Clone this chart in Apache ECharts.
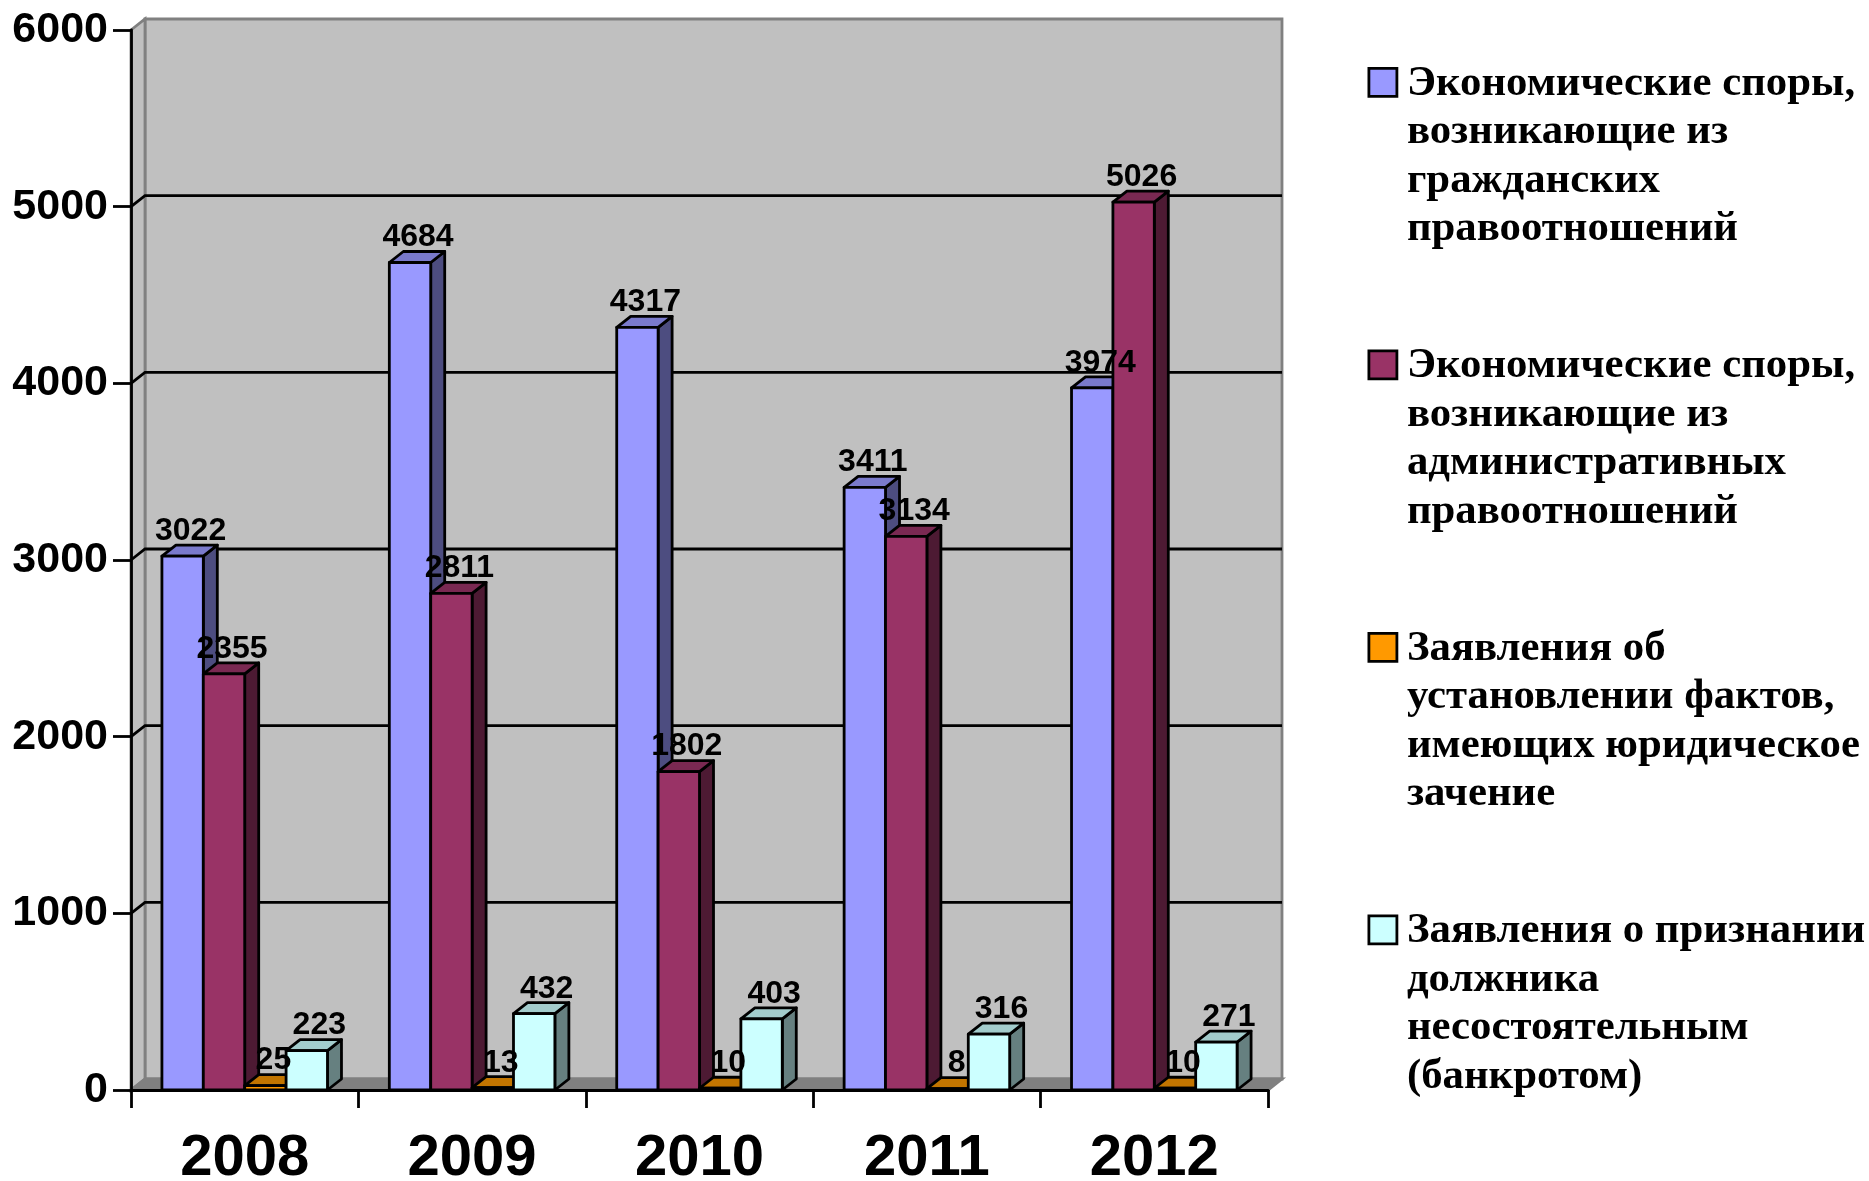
<!DOCTYPE html>
<html><head><meta charset="utf-8">
<style>html,body{margin:0;padding:0;background:#fff}#c{width:1869px;height:1181px}</style>
<script src="https://cdn.jsdelivr.net/npm/echarts@6/dist/echarts.min.js"></script>
</head><body><div id="c"></div>
<script>
const categories = ['2008','2009','2010','2011','2012'];
const civil = [3022,4684,4317,3411,3974];
const admin = [2355,2811,1802,3134,5026];
const facts = [25,13,10,8,10];
const bankrupt = [223,432,403,316,271];
const gridTicks = [1000,2000,3000,4000,5000];
const seriesNames = [
 'Экономические споры,\nвозникающие из\nгражданских\nправоотношений',
 'Экономические споры,\nвозникающие из\nадминистративных\nправоотношений',
 'Заявления об\nустановлении фактов,\nимеющих юридическое\nзачение',
 'Заявления о признании\nдолжника\nнесостоятельным\n(банкротом)'
];
const seriesValues = [civil,admin,facts,bankrupt];
const faceColors = ['#9999FF','#993366','#FF9900','#CCFFFF'];
const sideColors = ['#4D4D80','#4D1A33','#804D00','#668080'];
const topColors = ['#7A7ACC','#7A2952','#C27500','#A3CCCC'];

const DX = 14, DY = -11, LW = 2.8, BAR_RATIO = 0.182;
const LABEL_SHIFT = {1:9,2:8,3:12.5,4:8};
const SANS = '"Liberation Sans", Arial, sans-serif';

function wallItem(params){
  const c = params.coordSys, l=c.x, r=c.x+c.width, t=c.y, b=c.y+c.height;
  const gs = {fill:'#C0C0C0',stroke:'#808080',lineWidth:LW};
  return {type:'group',children:[
    {type:'polygon',z2:0,shape:{points:[[l+DX,t+DY],[r+DX,t+DY],[r+DX,b+DY],[l+DX,b+DY]]},style:gs},
    {type:'polygon',z2:0,shape:{points:[[l,t],[l+DX,t+DY],[l+DX,b+DY],[l,b]]},style:gs},
    {type:'polygon',z2:0,shape:{points:[[l,b],[l+DX,b+DY],[r+DX,b+DY],[r,b]]},style:{fill:'#808080',stroke:'#808080',lineWidth:LW}}
  ]};
}
function gridItem(params,api){
  const c = params.coordSys, l=c.x, r=c.x+c.width;
  const y = api.coord([0,api.value(0)])[1];
  return {type:'polyline',z2:1,shape:{points:[[l,y],[l+DX,y+DY],[r+DX,y+DY]]},style:{fill:null,stroke:'#000',lineWidth:LW}};
}
function barItem(si){
  return function(params,api){
    const p0 = api.coord([api.value(0),0]), p1 = api.coord([api.value(0),api.value(1)]);
    const bw = api.size([1,0])[0]*BAR_RATIO;
    const x0 = p0[0]+(si-2)*bw, x1 = x0+bw, yb = p0[1], yt = p1[1];
    const st = f=>({fill:f,stroke:'#000',lineWidth:LW,lineJoin:'round'});
    const txt = String(api.value(1));
    return {type:'group',children:[
      {type:'polygon',z2:10+si,shape:{points:[[x1,yb],[x1+DX,yb+DY],[x1+DX,yt+DY],[x1,yt]]},style:st(sideColors[si])},
      {type:'polygon',z2:10+si,shape:{points:[[x0,yt],[x0+DX,yt+DY],[x1+DX,yt+DY],[x1,yt]]},style:st(topColors[si])},
      {type:'rect',z2:10+si,shape:{x:x0,y:yt,width:bw,height:yb-yt},style:st(faceColors[si])},
      {type:'text',z2:100,style:{x:(x0+x1)/2+LABEL_SHIFT[txt.length],y:yt-9,text:txt,align:'center',verticalAlign:'bottom',
        font:'bold 32px '+SANS,fill:'#000'}}
    ]};
  };
}
const series = [
  {type:'custom',name:'walls',silent:true,coordinateSystem:'cartesian2d',data:[[0,0]],encode:{x:0,y:1},renderItem:wallItem,z:1},
  {type:'custom',name:'grid',silent:true,coordinateSystem:'cartesian2d',data:gridTicks.map(v=>[v]),encode:{y:0},renderItem:gridItem,z:1}
];
seriesNames.forEach((n,si)=>{
  series.push({type:'custom',name:n,coordinateSystem:'cartesian2d',silent:true,
    itemStyle:{color:faceColors[si],borderColor:'#000',borderWidth:LW},
    encode:{x:0,y:1},data:seriesValues[si].map((v,i)=>[i,v]),renderItem:barItem(si),z:2});
});
const chart = echarts.init(document.getElementById('c'),null,{renderer:'canvas'});
chart.setOption({
  animation:false,
  backgroundColor:'#fff',
  grid:{left:131,top:30,width:1137,height:1060,containLabel:false,outerBoundsMode:'none'},
  xAxis:{type:'category',data:categories,z:5,boundaryGap:true,
    axisLine:{show:true,lineStyle:{color:'#000',width:LW}},
    axisTick:{show:true,length:18,alignWithLabel:false,lineStyle:{color:'#000',width:LW}},
    axisLabel:{color:'#000',fontFamily:SANS,fontWeight:'bold',fontSize:58,margin:40,interval:0},
    splitLine:{show:false}},
  yAxis:{type:'value',min:0,max:6000,interval:1000,z:5,
    axisLine:{show:true,lineStyle:{color:'#000',width:LW}},
    axisTick:{show:true,length:18,lineStyle:{color:'#000',width:LW}},
    axisLabel:{color:'#000',fontFamily:SANS,fontWeight:'bold',fontSize:43,margin:23,formatter:v=>String(v)},
    splitLine:{show:false}},
  legend:{orient:'vertical',left:1362.5,top:53,itemWidth:28,itemHeight:194,itemGap:85.7,
    selectedMode:false,
    icon:'path://M0 0M0 9H28V37H0ZM0 194',
    data:seriesNames.map((n,si)=>({name:n,itemStyle:{color:faceColors[si],borderColor:'#000',borderWidth:LW}})),
    textStyle:{color:'#000',fontFamily:'"Liberation Serif", "Times New Roman", serif',fontWeight:'bold',fontSize:42.8,lineHeight:48.5,padding:[0,0,0,5]}},
  series
});
</script></body></html>
